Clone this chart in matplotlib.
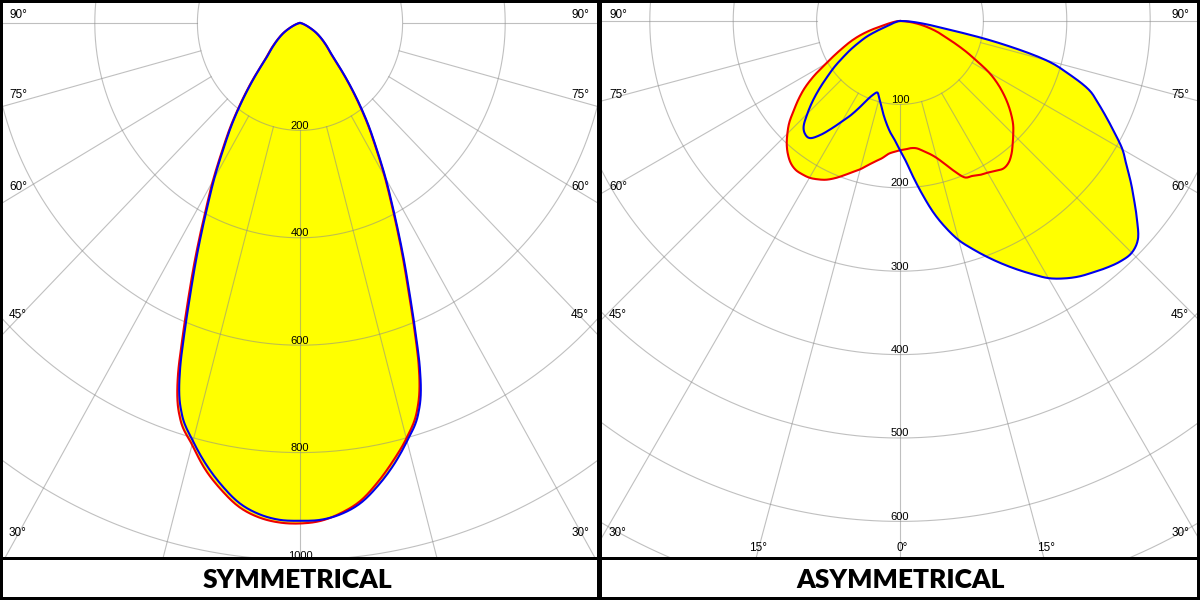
import numpy as np
import matplotlib
matplotlib.use('Agg')
import matplotlib.pyplot as plt
from matplotlib.patches import Rectangle

# symmetrical luminaire: angle from nadir (deg) -> intensity (cd)
sym_angles = [0, 2.5, 5, 7.5, 10, 12.5, 15, 17.5, 18.75, 20, 21.25, 22.5, 25, 27.5, 30,
              32.5, 35, 37.5, 40, 45, 50, 55, 60, 65, 70, 75, 80, 85, 90]
sym_blue = [927, 926, 918, 902, 875, 843, 806, 765, 732, 683, 623, 567, 474, 396, 334,
            278, 233, 190, 152, 95, 70, 52, 37, 22, 12, 6, 3, 1, 0]
sym_red_left = [932, 931, 924, 909, 883, 852, 813, 775, 743, 695, 634, 578, 483, 403, 340,
                283, 237, 193, 155, 97, 72, 53, 38, 23, 12, 6, 3, 1, 0]
sym_red_right = [932, 928, 916, 898, 869, 836, 801, 758, 724, 676, 617, 561, 469, 392, 330,
                 275, 230, 187, 150, 93, 69, 51, 36, 21, 11, 6, 3, 1, 0]
sym_rings = [200, 400, 600, 800, 1000]

# asymmetrical luminaire: negative angles = left half of the diagram
asym_angles = list(np.arange(-90, 90.1, 2.5))
asym_blue = [0, 1, 1, 2, 3, 4, 6, 9, 12, 25, 43, 55, 68, 81, 96, 110, 126, 142, 157, 171,
             177, 177, 167, 153, 139, 127, 114, 102, 94, 90, 96, 104, 114, 124, 134, 143,
             155,
             169, 189, 211, 234, 254, 272, 286, 300, 314, 328, 342, 356, 366, 374, 380,
             386, 391, 393, 387, 371, 354, 338, 322, 308, 290, 273, 257, 241, 213, 181,
             121, 60, 35, 20, 10, 0]
asym_red = [0, 2, 4, 6, 9, 14, 22, 38, 52, 64, 75, 88, 103, 122, 139, 153, 166, 180, 191,
            201, 209, 215, 218, 218, 217, 214, 210, 204, 197, 190, 184, 177, 171, 166, 160,
            157,
            155,
            154, 153, 154, 158, 163, 170, 180, 192, 203, 205, 208, 210, 213, 216, 214,
            208, 200, 192, 184, 174, 163, 151, 138, 123, 104, 88, 73, 60, 51, 42, 33,
            25, 17, 10, 5, 0]
asym_rings = [100, 200, 300, 400, 500, 600]

W, H = 1200, 600
fig = plt.figure(figsize=(12, 6), dpi=100)
num_font = ['Liberation Sans', 'DejaVu Sans']
grid_kw = dict(color='#8c8c8c', lw=0.8, alpha=0.55, zorder=2)


def px_axes(x0, y0, x1, y1):
    ax = fig.add_axes([x0 / W, 1 - y1 / H, (x1 - x0) / W, (y1 - y0) / H])
    ax.set_axis_off()
    return ax


def to_xy(angles, vals):
    # smooth path through the readings (cubic hermite in theta), then polar -> xy
    a = np.asarray(angles, float)
    v = np.asarray(vals, float)
    m = np.gradient(v, a)
    fine = np.arange(a[0], a[-1] + 1e-9, 0.25)
    i = np.clip(np.searchsorted(a, fine, side='right') - 1, 0, len(a) - 2)
    h = a[i + 1] - a[i]
    s = (fine - a[i]) / h
    r = ((2 * s**3 - 3 * s**2 + 1) * v[i] + (s**3 - 2 * s**2 + s) * h * m[i]
         + (-2 * s**3 + 3 * s**2) * v[i + 1] + (s**3 - s**2) * h * m[i + 1])
    r = np.maximum(r, 0)
    t = np.radians(fine)
    return r * np.sin(t), -r * np.cos(t)


def polar_panel(box, cx, cy, sx, sy, rings, extra_rings, curves):
    x0, y0, x1, y1 = box
    ax = px_axes(*box)
    ax.set_xlim((x0 - cx) / sx, (x1 - cx) / sx)
    ax.set_ylim(-(y1 - cy) / sy, (cy - y0) / sy)
    t = np.linspace(0, 2 * np.pi, 721)
    for r in rings + extra_rings:
        ax.plot(r * np.sin(t), r * np.cos(t), **grid_kw)
    r0, rmax = rings[0], rings[-1] * 3
    for a in range(-90, 91, 15):
        ar = np.radians(a)
        ax.plot([r0 * np.sin(ar), rmax * np.sin(ar)],
                [-r0 * np.cos(ar), -rmax * np.cos(ar)], **grid_kw)
    for r in rings:
        ax.text(0, -r + 1.5 / sy, str(r), ha='center', va='baseline', fontsize=8,
                family=num_font, zorder=4)
    for xs, ys, col in curves:
        ax.fill(xs, ys, color='#ffff00', lw=0, zorder=1)
    for xs, ys, col in curves:
        ax.plot(xs, ys, color=col, lw=1.5, zorder=3, solid_joinstyle='round')
    return ax


# left: symmetrical
neg = [-a for a in sym_angles[::-1]]
bx, by = to_xy(neg + sym_angles[1:], sym_blue[::-1] + sym_blue[1:])
rx, ry = to_xy(neg + sym_angles[1:], sym_red_left[::-1] + sym_red_right[1:])
polar_panel((3, 3, 597, 557), 300, 23, 0.513, 0.537, sym_rings, [1200, 1400],
            [(rx, ry, '#ee0000'), (bx, by, '#0000ee')])

# right: asymmetrical
bx, by = to_xy(asym_angles, asym_blue)
rx, ry = to_xy(asym_angles, asym_red)
polar_panel((602, 3, 1197, 557), 900, 21, 0.834, 0.834, asym_rings, [700, 800],
            [(rx, ry, '#ee0000'), (bx, by, '#0000ee')])

# frame, angle labels and titles
over = px_axes(0, 0, W, H)
over.set_xlim(0, W)
over.set_ylim(H, 0)
over.patch.set_alpha(0)
for rect in [(0, 0, W, 3), (0, H - 3, W, 3), (0, 0, 3, H), (W - 3, 0, 3, H),
             (597, 0, 5, H), (0, 557, W, 3)]:
    over.add_patch(Rectangle(rect[:2], rect[2], rect[3], color='black', lw=0))

deg_labels = ['90°', '75°', '60°', '45°', '30°']
deg_y = [15, 95, 187, 315, 533]
for lx, rx_ in [(9, 589), (609, 1189)]:
    for lab, yy in zip(deg_labels, deg_y):
        over.text(lx, yy, lab, ha='left', va='center', fontsize=8.5, family=num_font)
        over.text(rx_, yy, lab, ha='right', va='center', fontsize=8.5, family=num_font)
for a in (-15, 0, 15):
    xx = 900 + (557 - 21) * np.tan(np.radians(a))
    over.text(xx + 2, 548, f'{abs(a)}°', ha='center', va='center', fontsize=8.5,
              family=num_font)

title_font = ['Lato', 'DejaVu Sans']
over.text(297, 580, 'SYMMETRICAL', ha='center', va='center', fontsize=19,
          fontweight='heavy', family=title_font)
over.text(901, 580, 'ASYMMETRICAL', ha='center', va='center', fontsize=19,
          fontweight='heavy', family=title_font)

fig.savefig('out.png', dpi=100)
